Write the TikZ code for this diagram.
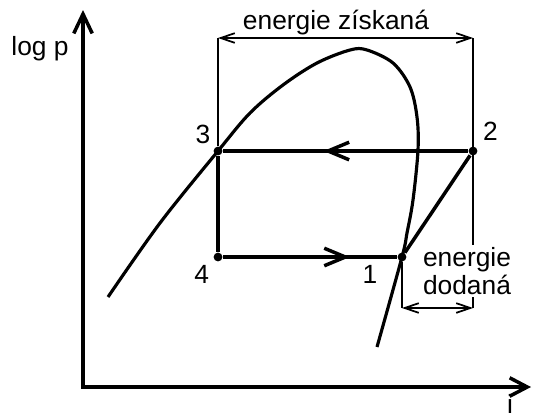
\documentclass[tikz,border=0pt]{standalone}
\usepackage{fontspec}
\setmainfont{Liberation Sans}
\usetikzlibrary{arrows.meta,decorations.markings,positioning}
\tikzset{
  every picture/.style={line width=1pt},
  sAxis/.style={line width=2pt, line join=miter,
                {Straight Barb[length=11pt,width=10.5pt]}-{Straight Barb[length=10pt,width=10.5pt]}},
  sCycle/.style={line width=2pt},
  sFlow/.style={sCycle, postaction={decorate, decoration={markings,
                  mark=at position #1 with {\arrow{Straight Barb[length=12pt,width=10pt]}}}}},
  sDome/.style={line width=1.8pt},
  sDim/.style={line width=1pt},
  sDimArr/.style={sDim, {Straight Barb[length=8pt,width=5.5pt]}-{Straight Barb[length=8pt,width=5.5pt]}},
  sState/.style={circle, fill=black, inner sep=0pt, minimum size=5pt},
  sNum/.style={inner sep=1pt, font=\fontsize{15}{16.4}\selectfont},
  sText/.style={font=\fontsize{15}{16.4}\selectfont},
}

\begin{document}
\begin{tikzpicture}[x=0.02cm, y=-0.02cm]
  \useasboundingbox (0,0) rectangle (534,416);
  % axes
  \coordinate (O) at (83,387);
  \coordinate (yEnd) at (83,10);
  \coordinate (xEnd) at (531,387);
  \draw[sAxis] (yEnd) -- (O) -- (xEnd);
  \node[sText, anchor=base] (ylab) at (40,55) {log p};
  \node[sText, anchor=base, inner sep=0pt] (xlab) at (510,413) {i};
  % states of the cycle
  \node[sState, label={[sNum, label distance=1pt]above left:3}] (p3) at (218,151) {};
  \node[sState, label={[sNum, label distance=3pt]above right:2}] (p2) at (473,151) {};
  \node[sState, label={[sNum, label distance=2pt]below left:4}] (p4) at (218,257) {};
  \node[sState, label={[sNum, label distance=2pt, xshift=-9pt]below left:1}] (p1) at (402,257) {};
  % dimension lines
  \coordinate (gL) at (218,38);
  \coordinate (gR) at (473,38);
  \coordinate (dL) at (402,308);
  \coordinate (dR) at (473,308);
  \draw[sDim] (gL) -- (p3);
  \draw[sDim] (gR) -- (dR);
  \draw[sDim] (p1) -- (dL);
  \draw[sDimArr] (gL) -- (gR);
  \draw[sDimArr] (dL) -- (dR);
  % saturation curve
  \draw[sDome] plot[smooth, tension=0.55] coordinates {(108,297) (160,223) (218,151)
    (250,113) (283,85) (317,63) (350,50) (367,50) (393,63) (410,87) (417,117)
    (418,150) (413,200) (407,233) (402,257) (377,347)};
  % cycle
  \draw[sFlow=0.59] (p2) -- (p3);
  \draw[sCycle] (p3) -- (p4);
  \draw[sFlow=0.73] (p4) -- (p1);
  \draw[sCycle] (p1) -- (p2);
  % texts
  \node[sText, anchor=base] (gain) at (336,29) {energie získaná};
  \node[sText, fill=white, align=center, inner sep=1pt] (input) at (467,271) {energie\\dodaná};
\end{tikzpicture}
\end{document}
